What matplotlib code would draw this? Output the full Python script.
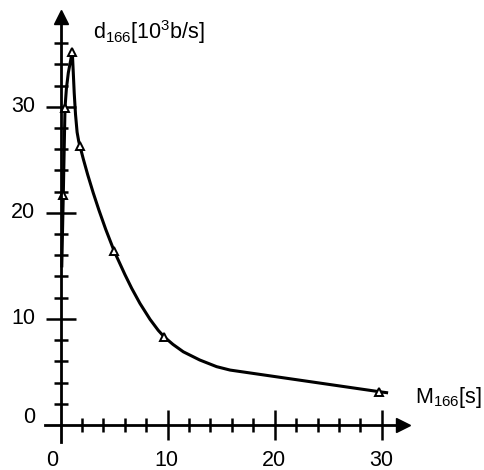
import matplotlib
matplotlib.use("Agg")
import matplotlib.pyplot as plt
from matplotlib.ticker import FixedLocator, NullFormatter

plt.rcParams['font.family'] = ['Liberation Sans', 'DejaVu Sans']
plt.rcParams['mathtext.fontset'] = 'custom'
plt.rcParams['mathtext.rm'] = 'Liberation Sans'
plt.rcParams['mathtext.it'] = 'Liberation Sans:italic'
plt.rcParams['mathtext.default'] = 'regular'

# Measured points (triangles)
meas_x = [0.26, 0.42, 1.10, 1.82, 5.02, 9.69, 29.77]
meas_y = [21.7, 29.9, 35.2, 26.28, 16.37, 8.3, 3.14]

# Drawn curve
curve_x = [0.12, 0.26, 0.42, 0.55, 0.73, 1.10, 1.18, 1.28, 1.40, 1.55, 1.70,
           1.82, 2.13, 2.54, 3.06, 3.59, 4.22, 5.02, 6.02, 6.65, 7.42, 8.36,
           9.13, 9.69, 10.5, 11.47, 13.0, 14.58, 15.83, 29.77, 30.45]
curve_y = [15.0, 21.7, 29.9, 31.7, 33.2, 35.2, 33.5, 31.3, 29.3, 27.6, 26.75,
           26.28, 25.07, 23.59, 21.87, 20.25, 18.45, 16.37, 14.17, 12.88, 11.46,
           9.96, 8.92, 8.3, 7.6, 6.9, 6.13, 5.5, 5.18, 3.14, 3.05]

x_major = [10, 20, 30]
x_minor = [2, 4, 6, 8, 12, 14, 16, 18, 22, 24, 26, 28]
y_major = [10, 20, 30]
y_minor = [2, 4, 6, 8, 12, 14, 16, 18, 22, 24, 26, 28, 32, 34, 36]
x_labels = ['0', '10', '20', '30']
x_label_vals = [0, 10, 20, 30]
y_labels = ['0', '10', '20', '30']
y_label_vals = [0, 10, 20, 30]

fig = plt.figure(figsize=(4.85, 4.70), dpi=100)
ax = fig.add_axes([0, 0, 1, 1])
ax.set_xlim(-5.65, 39.64)
ax.set_ylim(-4.24, 40.06)
ax.patch.set_alpha(0)

for s in ['top', 'right']:
    ax.spines[s].set_visible(False)
ax.spines['left'].set_position(('data', 0))
ax.spines['bottom'].set_position(('data', 0))
ax.spines['left'].set_bounds(-1.6, 37.8)
ax.spines['bottom'].set_bounds(-1.45, 31.5)
for s in ['left', 'bottom']:
    ax.spines[s].set_linewidth(2.0)

ax.xaxis.set_major_locator(FixedLocator(x_major))
ax.xaxis.set_minor_locator(FixedLocator(x_minor))
ax.yaxis.set_major_locator(FixedLocator(y_major))
ax.yaxis.set_minor_locator(FixedLocator(y_minor))
ax.xaxis.set_major_formatter(NullFormatter())
ax.yaxis.set_major_formatter(NullFormatter())
ax.tick_params(which='major', direction='inout', length=21, width=1.8)
ax.tick_params(which='minor', direction='inout', length=10.5, width=1.8)

# arrow heads
ax.plot([0], [38.45], marker='^', markersize=10, color='black', clip_on=False)
ax.plot([32.0], [0], marker='>', markersize=10, color='black', clip_on=False)

# curve and markers
ax.plot(curve_x, curve_y, color='black', lw=2.2, solid_joinstyle='round')
ax.plot(meas_x, meas_y, linestyle='none', marker='^', markersize=6,
        markerfacecolor='white', markeredgecolor='black', markeredgewidth=1.4)

fs = 15.5
for v, t in zip(x_label_vals, x_labels):
    dx = -0.79 if v == 0 else -0.07
    ax.text(v + dx, -3.3, t, ha='center', va='center', fontsize=fs)
for v, t in zip(y_label_vals, y_labels):
    dy = 0.75 if v == 0 else 0.0
    ax.text(-2.38, v + dy, t, ha='right', va='center', fontsize=fs)

ax.text(3.03, 37.0, r'd$_{166}$[10$^{3}$b/s]', ha='left', va='center', fontsize=fs)
ax.text(33.1, 2.64, r'M$_{166}$[s]', ha='left', va='center', fontsize=fs)

fig.savefig('out.png', dpi=100)
